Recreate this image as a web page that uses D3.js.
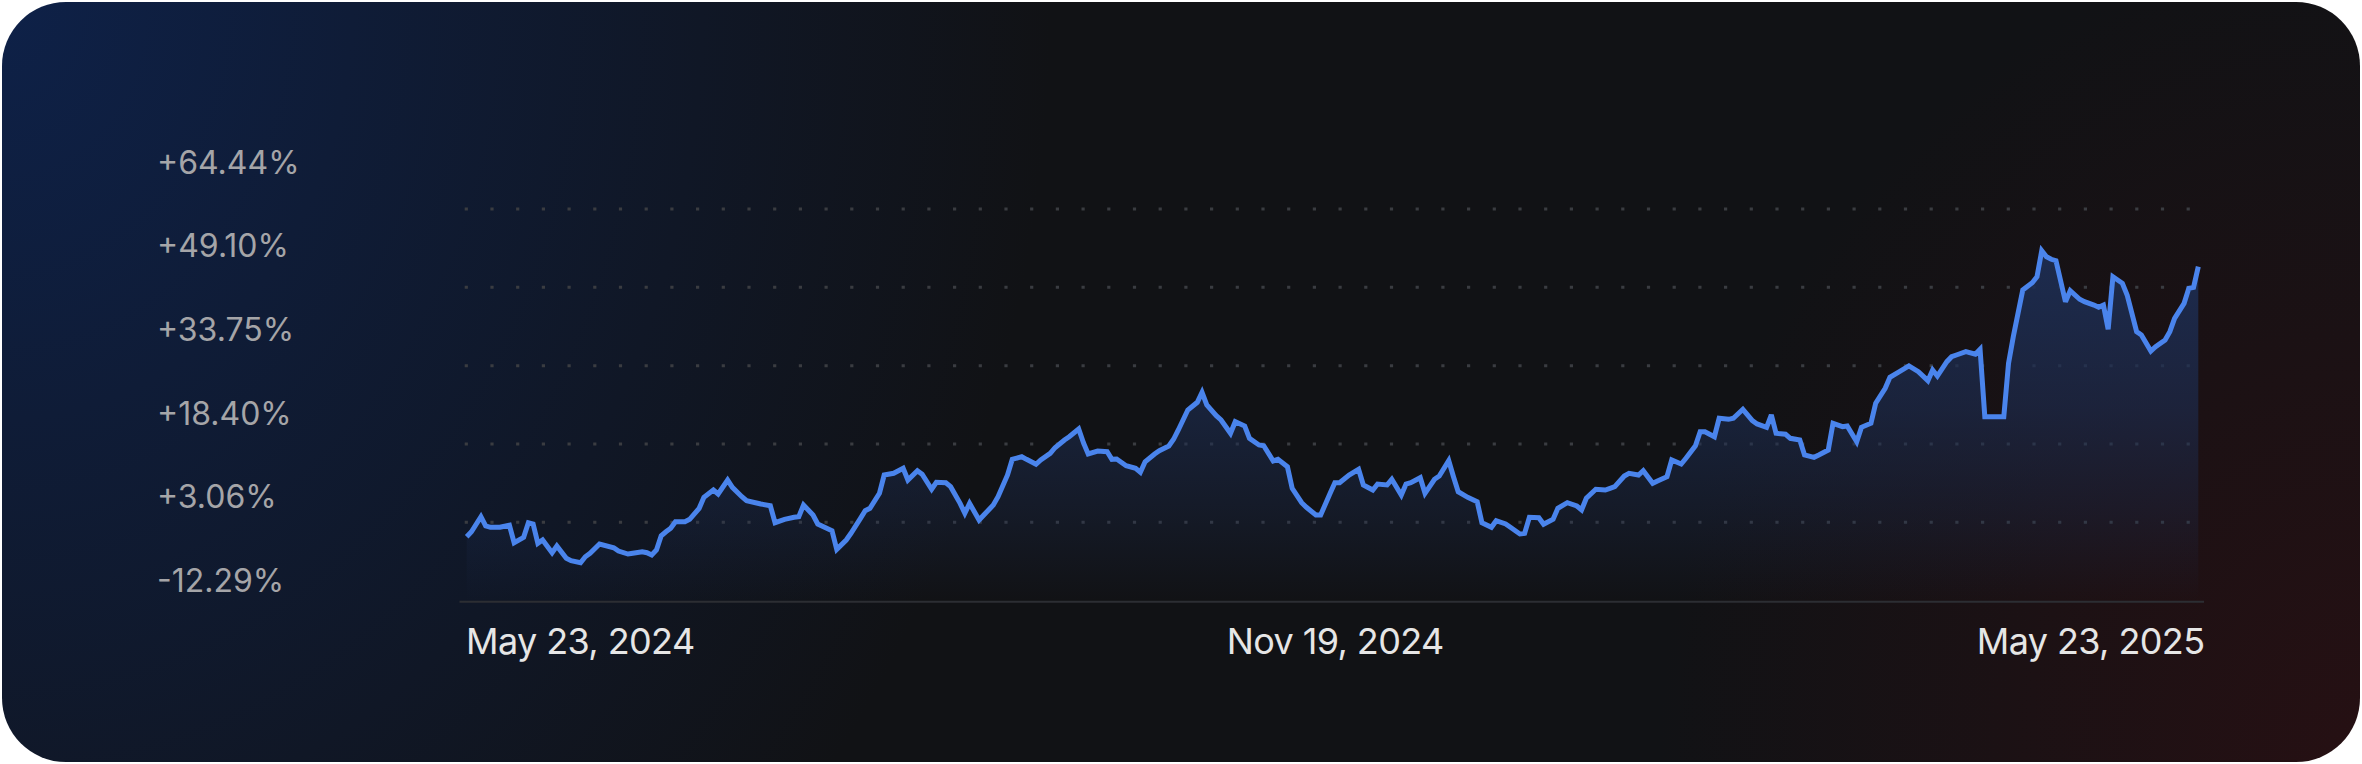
<!DOCTYPE html>
<html>
<meta charset="utf-8">
<style>
html, body {
  margin: 0;
  padding: 0;
  background: #fff;
}

.card {
  position: absolute;
  left: 2px;
  top: 2px;
  width: 2358px;
  height: 760px;
  border-radius: 64px;
  overflow: hidden;
  background:
    radial-gradient(ellipse 700px 820px at 100% 100%, rgba(38,16,19,1), rgba(38,16,19,0)),
    radial-gradient(ellipse 1050px 1250px at 0% 0%, rgba(14,33,72,1), rgba(14,33,72,0)),
    #111215;
}

svg {
  position: absolute;
  left: 0;
  top: 0;
}

text {
  font-family: Inter, "Noto Sans", sans-serif;
}

.ylab text {
  font-size: 32px;
  fill: #a5a5a8;
}

.xlab text {
  font-size: 36px;
  letter-spacing: -0.6px;
  fill: #e6e6e6;
}
</style>
<body>
<div class="card"></div>
<script src="https://cdn.jsdelivr.net/npm/d3@7"></script>
<script>

/*******************
data
********************/
var startDate = new Date(2024, 4, 23),
    endDate = new Date(2025, 4, 23);

// calendar days after May 23, 2024
var dayOffsets = [
  0, 1, 3, 4, 5, 7, 9, 10, 12, 13, 14, 15, 16, 18, 19, 21, 22, 24, 25, 26,
  28, 31, 32, 34, 35, 37, 38, 39, 40, 41, 42, 43, 44, 46, 47, 49, 50, 52, 53, 55,
  56, 58, 59, 62, 64, 65, 67, 69, 70, 71, 73, 74, 77, 78, 80, 81, 83, 84, 85, 87,
  88, 90, 92, 93, 95, 96, 98, 99, 101, 102, 104, 105, 106, 108, 109, 111, 112, 114, 115, 117,
  118, 120, 121, 123, 124, 126, 127, 129, 130, 131, 133, 135, 136, 137, 139, 141, 142, 143, 145, 146,
  148, 149, 150, 152, 154, 155, 156, 158, 159, 161, 162, 164, 165, 167, 168, 170, 171, 173, 174, 176,
  177, 179, 180, 182, 183, 184, 186, 188, 189, 191, 192, 194, 195, 197, 198, 199, 201, 202, 204, 205,
  207, 208, 209, 211, 213, 214, 216, 217, 219, 220, 222, 223, 224, 226, 227, 229, 230, 232, 234, 235,
  236, 238, 240, 241, 242, 244, 245, 247, 248, 250, 251, 253, 254, 256, 257, 259, 260, 261, 263, 264,
  266, 267, 269, 271, 272, 274, 275, 276, 278, 279, 281, 282, 284, 285, 287, 288, 290, 291, 293, 294,
  296, 297, 299, 300, 302, 304, 306, 308, 309, 310, 312, 313, 314, 316, 318, 319, 320, 322, 324, 325,
  326, 328, 330, 331, 332, 333, 334, 335, 337, 338, 340, 341, 343, 344, 345, 346, 347, 349, 350, 352,
  353, 355, 356, 358, 359, 360, 362, 363, 364, 365
];

// return in percent
var returns = [
  -1.84, -1.03, 1.42, -0.09, -0.31, -0.31, 0.02, -2.82, -1.94, 0.44, 0.23, -2.92, -2.38, -4.45, -3.36, -5.37, -5.76, -6.09, -5.11, -4.55,
  -3.03, -3.64, -4.18, -4.67, -4.55, -4.29, -4.45, -4.83, -4.01, -1.68, -1.03, -0.47, 0.61, 0.61, 1.00, 2.79, 4.59, 5.78, 5.13, 7.41,
  6.22, 4.69, 4.04, 3.50, 3.22, 0.44, 1.00, 1.33, 1.42, 3.33, 1.70, 0.23, -0.86, -3.90, -2.38, -1.29, 1.16, 2.40, 2.79, 5.24,
  8.23, 8.51, 9.32, 7.41, 8.93, 8.35, 5.90, 7.04, 6.97, 6.32, 3.61, 1.98, 3.61, 0.88, 1.70, 3.33, 4.69, 8.23, 10.79, 11.22,
  10.79, 9.98, 10.68, 11.77, 12.69, 13.95, 14.48, 15.74, 13.50, 11.66, 12.15, 12.04, 10.79, 10.84, 9.75, 9.32, 8.67, 10.40, 11.66, 12.20,
  12.97, 14.06, 15.58, 18.84, 20.10, 21.73, 19.66, 17.91, 17.21, 15.04, 16.93, 16.23, 14.22, 13.13, 13.01, 10.52, 10.79, 9.59, 6.06, 3.71,
  2.96, 1.70, 1.70, 5.24, 6.97, 6.97, 8.23, 9.16, 6.60, 5.78, 6.76, 6.60, 7.53, 4.97, 6.76, 6.97, 7.79, 5.24, 7.53, 8.07,
  10.57, 7.95, 5.50, 4.59, 3.87, 0.44, -0.31, 0.77, 0.23, -0.31, -1.40, -1.29, 1.33, 1.26, 0.18, 1.00, 2.79, 3.71, 3.17, 2.52,
  4.43, 5.90, 5.78, 6.06, 6.32, 8.07, 8.51, 8.23, 8.93, 6.88, 7.25, 7.95, 10.68, 10.03, 10.96, 13.01, 15.30, 15.30, 14.48, 17.49,
  17.32, 17.49, 18.96, 17.10, 16.56, 16.02, 18.03, 15.04, 14.88, 14.22, 13.95, 11.50, 11.12, 11.50, 12.31, 16.67, 16.12, 16.23, 13.67, 16.02,
  16.67, 19.94, 22.39, 24.18, 25.10, 26.03, 25.10, 23.63, 25.37, 24.39, 26.73, 27.54, 27.82, 28.36, 27.94, 28.75, 17.75, 17.75, 17.75, 26.47,
  30.81, 38.43, 39.62, 40.60, 44.85, 43.87, 43.45, 43.22, 36.52, 38.32, 36.92, 36.52, 35.98, 35.61, 35.98, 32.02, 40.60, 39.53, 37.62, 31.63,
  31.09, 28.47, 29.18, 30.27, 31.63, 33.81, 36.26, 38.71, 38.87, 42.24
];

var yTickValues = [64.44, 49.10, 33.75, 18.40, 3.06, -12.29];
var xTickLabels = ['May 23, 2024', 'Nov 19, 2024', 'May 23, 2025'];

/*******************
layout
********************/
var width = 2362,
    height = 764,
    plot = {left: 466.7, right: 2198.3, top: 130.7, bottom: 600.7},
    gridRows = 6,
    lineColor = '#4a84ec',
    fillColor = '#1d2d52';

var data = dayOffsets.map(function(d, i) {
  return {date: d3.timeDay.offset(startDate, d), value: returns[i]};
});

var yMin = d3.min(yTickValues),
    yMax = d3.max(yTickValues);

var x = d3.scaleTime()
    .domain([startDate, endDate])
    .range([plot.left, plot.right]);

var y = d3.scaleLinear()
    .domain([yMin, yMax])
    .range([plot.bottom, plot.top]);

// the label column sits beside the plot, spread evenly on its own
var yLabel = d3.scaleLinear()
    .domain([yMin, yMax])
    .range([591.7, 173.3]);

var xLabel = d3.scalePoint()
    .domain(xTickLabels)
    .range([465.5, 2204]);

var svg = d3.select('body').append('svg')
    .attr('width', width)
    .attr('height', height);

var defs = svg.append('defs');
var grad = defs.append('linearGradient')
    .attr('id', 'fill')
    .attr('gradientUnits', 'userSpaceOnUse')
    .attr('x1', 0).attr('x2', 0)
    .attr('y1', y(d3.max(returns)))
    .attr('y2', plot.bottom);
grad.append('stop').attr('offset', 0).attr('stop-color', fillColor).attr('stop-opacity', 0.95);
grad.append('stop').attr('offset', 0.45).attr('stop-color', fillColor).attr('stop-opacity', 0.62);
grad.append('stop').attr('offset', 0.75).attr('stop-color', fillColor).attr('stop-opacity', 0.3);
grad.append('stop').attr('offset', 1).attr('stop-color', fillColor).attr('stop-opacity', 0);

// dotted grid
var gridValues = d3.range(1, gridRows).map(function(i) {
  return yMin + i * (yMax - yMin) / gridRows;
});

svg.append('g')
  .selectAll('line')
  .data(gridValues)
  .enter().append('line')
    .attr('x1', plot.left - 2)
    .attr('x2', plot.right)
    .attr('y1', function(d) { return y(d); })
    .attr('y2', function(d) { return y(d); })
    .attr('stroke', '#3a3c41')
    .attr('stroke-width', 3)
    .attr('stroke-dasharray', '3.2 22.5');

// area + line
svg.append('path')
    .datum(data)
    .attr('fill', 'url(#fill)')
    .attr('d', d3.area()
      .x(function(d) { return x(d.date); })
      .y0(plot.bottom)
      .y1(function(d) { return y(d.value); }));

svg.append('path')
    .datum(data)
    .attr('fill', 'none')
    .attr('stroke', lineColor)
    .attr('stroke-width', 5)
    .attr('stroke-linejoin', 'miter')
    .attr('stroke-miterlimit', 3)
    .attr('d', d3.line()
      .x(function(d) { return x(d.date); })
      .y(function(d) { return y(d.value); }));

// x axis
svg.append('line')
    .attr('x1', xLabel.range()[0] - 6)
    .attr('x2', xLabel.range()[1])
    .attr('y1', plot.bottom + 1)
    .attr('y2', plot.bottom + 1)
    .attr('stroke', '#2c2e33')
    .attr('stroke-width', 2);

var xAxis = svg.append('g')
    .attr('class', 'xlab')
    .attr('transform', 'translate(0,' + (plot.bottom + 1) + ')')
    .call(d3.axisBottom(xLabel).tickSize(0).tickPadding(0));
xAxis.select('.domain').remove();
xAxis.selectAll('text')
    .attr('fill', null)
    .attr('font-family', null)
    .attr('font-size', null)
    .attr('dy', null)
    .attr('y', 52.5)
    .attr('text-anchor', function(d, i) {
      return i == 0 ? 'start' : (i == xTickLabels.length - 1 ? 'end' : 'middle');
    });

// y labels
var fmt = function(d) { return (d >= 0 ? '+' : '') + d.toFixed(2) + '%'; };
var yAxis = svg.append('g')
    .attr('class', 'ylab')
    .attr('transform', 'translate(157,0)')
    .call(d3.axisRight(yLabel).tickValues(yTickValues).tickFormat(fmt).tickSize(0).tickPadding(0));
yAxis.select('.domain').remove();
yAxis.selectAll('text')
    .attr('fill', null)
    .attr('font-family', null)
    .attr('font-size', null)
    .attr('dy', null);

</script>
</body>
</html>
